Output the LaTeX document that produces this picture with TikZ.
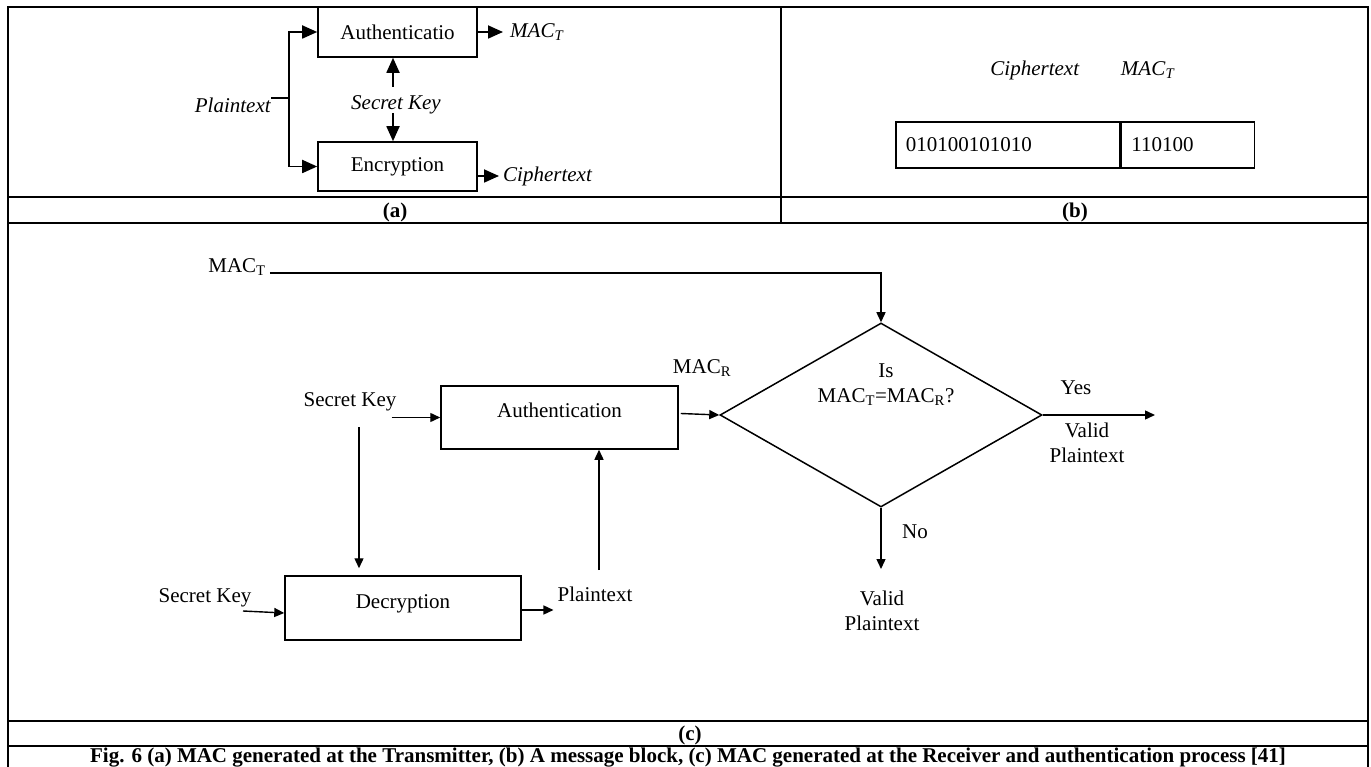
\documentclass[tikz,border=0pt]{standalone}
\usepackage{fontspec}
\setmainfont{Liberation Serif}
\usetikzlibrary{arrows.meta,shapes.geometric,calc}
\begin{document}
\begin{tikzpicture}[x=1pt,y=-1pt,
  font=\fontsize{21}{25}\selectfont,
  tbl/.style={line width=2pt},
  boxA/.style={draw,line width=1.6pt,minimum width=159pt,minimum height=50pt,inner sep=0pt},
  arrA/.style={line width=1.8pt,-{Triangle[length=15pt,width=13pt]}},
  lineA/.style={line width=1.8pt},
  boxC/.style={draw,line width=1.5pt,inner sep=0pt},
  arrC/.style={line width=1.4pt,-{Triangle[length=10pt,width=9pt]}},
  lbl/.style={inner sep=0pt},
]
\useasboundingbox (0,0) rectangle (1371,767);
% table
\draw[tbl,line join=miter] (8,767) -- (8,7) -- (1368,7) -- (1368,767);
\draw[tbl] (8,197) -- (1368,197);
\draw[tbl] (8,223) -- (1368,223);
\draw[tbl] (8,721) -- (1368,721);
\draw[tbl] (8,746) -- (1368,746);
\draw[tbl] (781,7) -- (781,223);
% (a)
\node[boxA] (authA) at (397.5,32) {Authenticatio};
\node[boxA,minimum height=49pt] (encA) at (397.5,166.5) {Encryption};
\node[lbl] (plainA) at (233,105) {\textit{Plaintext}};
\coordinate (split) at (289,98);
\draw[lineA] (plainA.east |- split) -- (split);
\draw[arrA] (split) |- (authA.west);
\draw[arrA] (split) |- (encA.west);
\node[lbl,anchor=west,inner xsep=7pt] (macA) at (503,32) {\textit{MAC}\textsubscript{\textit{T}}};
\draw[arrA] (authA.east) -- (macA.west);
\node[lbl,anchor=west,inner xsep=4pt] (cipherA) at (499,176) {\textit{Ciphertext}};
\draw[arrA] (encA.east |- cipherA.west) -- (cipherA.west);
\node[lbl] (keyA) at (396,105) {\textit{Secret Key}};
\draw[arrA] ($(keyA.center)+(-3,-18)$) -- ($(authA.south)+(-4.5,0)$);
\draw[arrA] ($(keyA.center)+(-3,8)$) -- ($(encA.north)+(-4.5,0)$);
% (b)
\node[lbl] (cipherB) at (1035,70) {\textit{Ciphertext}};
\node[lbl] (macB) at (1148,70) {\textit{MAC}\textsubscript{\textit{T}}};
\node[boxC,line width=1.6pt,anchor=north west,minimum height=46pt,text width=204pt,inner xsep=10pt,align=left] (blk1) at (895,121) {010100101010};
\node[boxC,line width=1.6pt,anchor=north west,minimum height=46pt,text width=113pt,inner xsep=10pt,align=left] (blk2) at (blk1.north east) {110100};
% (c)
\node[lbl] (macTc) at (237,267) {MAC\textsubscript{T}};
\node[diamond,draw,line width=1.5pt,minimum width=322pt,minimum height=184pt,inner sep=0pt] (dia) at (881,415) {};
\draw[arrC] ($(macTc.east)+(4,6)$) -| (dia.north);
\node[lbl,align=center] (q) at (886,385) {Is\\MAC\textsubscript{T}=MAC\textsubscript{R}?};
\node[lbl] (macR) at (702,368) {MAC\textsubscript{R}};
\node[boxC,minimum width=237pt,minimum height=63pt,text height=31.5pt,text depth=31.5pt] (authC) at (559.5,417.5) {Authentication};
\node[lbl] (keyC1) at (350,402) {Secret Key};
\draw[arrC] ($(keyC1.east |- authC.west)+(-5,0)$) -- (authC.west);
\node[boxC,minimum width=236pt,minimum height=64pt,text height=32pt,text depth=32pt] (decC) at (403,608) {Decryption};
\coordinate (k1) at (359,427);
\draw[arrC] (k1) -- ($(k1 |- decC.north)+(0,-7)$);
\node[lbl] (keyC2) at (205,598) {Secret Key};
\coordinate (k2) at (243,611);
\draw[arrC] (k2) -- ($(decC.west)+(0,5)$);
\node[lbl] (plainC) at (595,594) {Plaintext};
\draw[arrC] ($(decC.east)+(0,2)$) -- ($(plainC.west |- decC.east)+(-4,2)$);
\coordinate (p1) at (599,570);
\draw[arrC] (p1) -- (p1 |- authC.south);
\draw[arrC] ($(authC.east)+(2,-4)$) -- (dia.west);
\coordinate (yesEnd) at (1155,415);
\draw[arrC] (dia.east) -- (yesEnd);
\node[lbl] (yes) at (1076,388) {Yes};
\node[lbl,align=center] (validY) at (1087,443) {Valid\\Plaintext};
\coordinate (noEnd) at (881,569);
\draw[arrC] (dia.south) -- (noEnd);
\node[lbl] (no) at (915,532) {No};
\node[lbl,align=center] (validN) at (882,611) {Valid\\Plaintext};
% labels
\node[lbl] (la) at (395,212) {\textbf{(a)}};
\node[lbl] (lb) at (1075,212) {\textbf{(b)}};
\node[lbl] (lc) at (690,735) {\textbf{(c)}};
\node[lbl,anchor=base] (cap) at (688,762.5) {\textbf{Fig. 6 (a) MAC generated at the Transmitter, (b) A message block, (c) MAC generated at the Receiver and authentication process [41]}};
\end{tikzpicture}
\end{document}
